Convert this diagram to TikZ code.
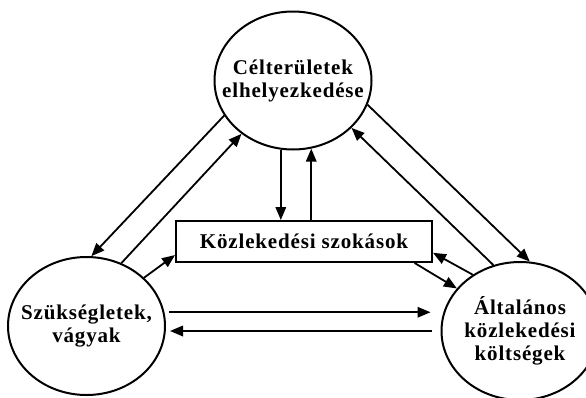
\documentclass[tikz,border=0pt]{standalone}
\usepackage{fontspec}
\newfontfamily\labelfont{Liberation Serif}[LetterSpace=4]
\usetikzlibrary{shapes.geometric,arrows.meta}

\begin{document}
\begin{tikzpicture}[x=1pt,y=-1pt,
    bubble/.style={ellipse, draw, line width=2pt, minimum width=157pt, minimum height=138pt},
    txt/.style={align=center, font=\labelfont\bfseries\fontsize{21}{23}\selectfont},
    arr/.style={-{Triangle[length=13pt,width=10.5pt]}, line width=1.8pt}]
      \useasboundingbox (0,0) rectangle (586,397);
      \node [bubble] (goals) at (293,80.5) {};
      \node [txt] (goalstext) at (goals) {Célterületek\\elhelyezkedése};
      \node [bubble] (needs) at (86.5,326) {};
      \node [txt] (needstext) at (needs) {Szükségletek,\\vágyak};
      \node [bubble] (costs) at (520,331) {};
      \node [txt] (coststext) at (costs) {Általános\\közlekedési\\költségek};
      \node [txt, rectangle, draw, line width=2pt, minimum width=256pt, minimum height=41pt] (habits) at (304,241.5) {Közlekedési szokások};
      \draw [arr] (goals.207) -- (needs.86);
      \draw [arr] (needs.61) -- (goals.226);
      \draw [arr] (goals.342) -- (costs.82);
      \draw [arr] (costs.112) -- (goals.321);
      \draw [arr] (goals.260) -- (goals.260 |- habits.north);
      \draw [arr] (goals.285 |- habits.north) -- (goals.285);
      \draw [arr] (needs.40) -- (habits.186);
      \draw [arr] (costs.130) -- (habits.355);
      \draw [arr] (habits.349) -- (costs.146);
      \draw [arr, shorten <=5pt, shorten >=10pt] (needs.10) -- (needs.10 -| costs.west);
      \draw [arr, shorten <=9pt, shorten >=4pt] (costs.west) -- (costs.west -| needs.east);
    \end{tikzpicture}
\end{document}
